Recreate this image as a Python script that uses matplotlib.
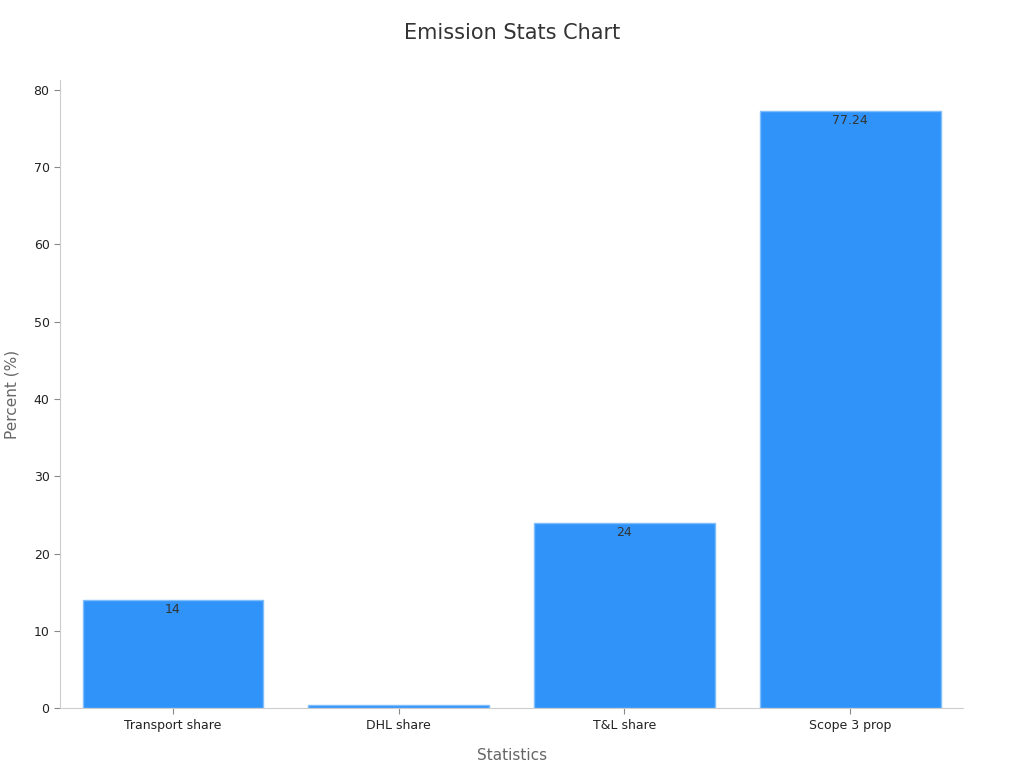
import matplotlib
matplotlib.use("Agg")
import matplotlib.pyplot as plt

categories = ["Transport share", "DHL share", "T&L share", "Scope 3 prop"]
values = [14, 0.4, 24, 77.24]
labels = ["14", "", "24", "77.24"]

fig = plt.figure(figsize=(10.24, 7.68), dpi=100)
ax = fig.add_axes([0.0586, 0.078, 0.882, 0.818])
bars = ax.bar(categories, values, width=0.8, color="#2f93f9", edgecolor="#7fbdfb", linewidth=1)
for b, l in zip(bars, labels):
    if l:
        ax.text(b.get_x() + b.get_width()/2, b.get_height() - 0.4, l, ha="center", va="top",
                fontsize=9, color="#333333")
ax.set_ylim(0, 81.3)
ax.set_xlim(-0.5, 3.5)
ax.set_yticks(range(0, 81, 10))
for s in ["top", "right"]:
    ax.spines[s].set_visible(False)
for s in ["left", "bottom"]:
    ax.spines[s].set_color("#cccccc")
ax.tick_params(colors="#222222", labelsize=9, length=4)
ax.tick_params(axis="both", color="#888888")
ax.set_xlabel("Statistics", fontsize=11, color="#666666", labelpad=12)
ax.set_ylabel("Percent (%)", fontsize=11, color="#666666", labelpad=10)
fig.suptitle("Emission Stats Chart", fontsize=15, color="#333333", y=0.97)
fig.savefig("out.png")
